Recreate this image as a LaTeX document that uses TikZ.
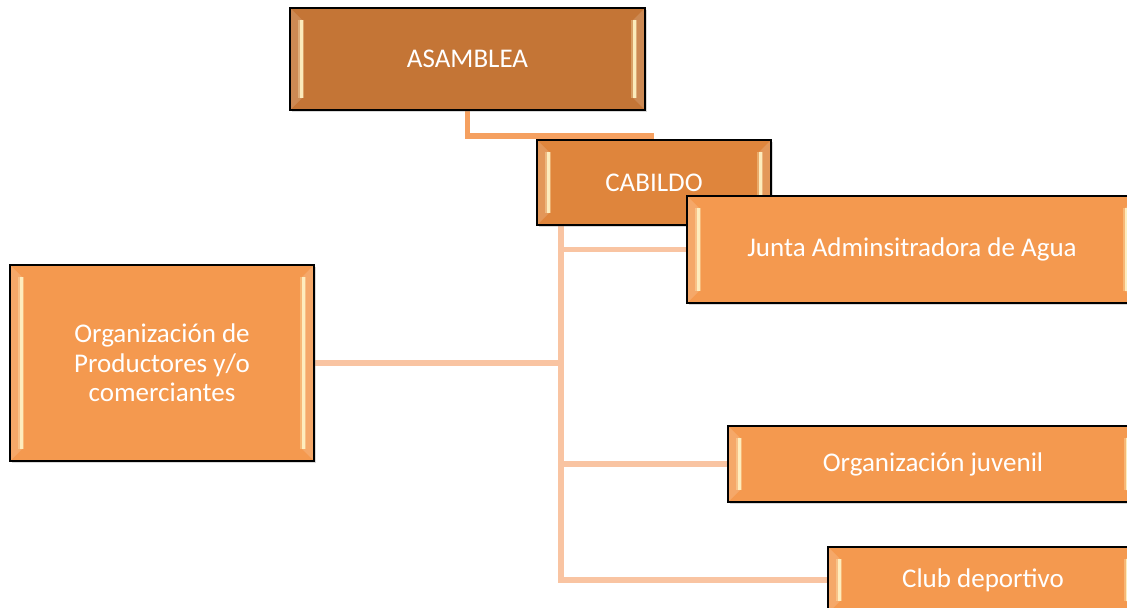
\documentclass[tikz,border=0pt]{standalone}
\usepackage{fontspec}
\setmainfont{Carlito}
\usetikzlibrary{backgrounds,shadows}
\definecolor{brown1}{RGB}{196,117,54}
\definecolor{orange1}{RGB}{223,133,60}
\definecolor{orange2}{RGB}{244,153,79}
\definecolor{linkdark}{RGB}{245,160,96}
\definecolor{linklight}{RGB}{249,196,162}
\definecolor{bevelhi}{RGB}{255,242,196}

\begin{document}
\begin{tikzpicture}[x=0.5pt, y=-0.5pt,
  bevel/.style={path picture={
    \fill[white, opacity=0.15] (path picture bounding box.north west) -- ([shift={(6pt,-6pt)}]path picture bounding box.north west)
      -- ([shift={(6pt,6pt)}]path picture bounding box.south west) -- (path picture bounding box.south west) -- cycle;
    \fill[white, opacity=0.15] (path picture bounding box.north east) -- ([shift={(-6pt,-6pt)}]path picture bounding box.north east)
      -- ([shift={(-6pt,6pt)}]path picture bounding box.south east) -- (path picture bounding box.south east) -- cycle;
    \draw[bevelhi, opacity=0.35, line width=3pt] ([shift={(5.5pt,-6pt)}]path picture bounding box.north west) -- ([shift={(5.5pt,6pt)}]path picture bounding box.south west);
    \draw[bevelhi, opacity=0.35, line width=3pt] ([shift={(-5.5pt,-6pt)}]path picture bounding box.north east) -- ([shift={(-5.5pt,6pt)}]path picture bounding box.south east);
    \draw[bevelhi, opacity=0.9, line width=1.5pt] ([shift={(5.5pt,-6pt)}]path picture bounding box.north west) -- ([shift={(5.5pt,6pt)}]path picture bounding box.south west);
    \draw[bevelhi, opacity=0.9, line width=1.5pt] ([shift={(-5.5pt,-6pt)}]path picture bounding box.north east) -- ([shift={(-5.5pt,6pt)}]path picture bounding box.south east);
  }},
  box/.style={draw=black, line width=0.8pt, fill=orange2, text=white, align=center,
    inner sep=2pt, font=\fontsize{13.5}{14.8}\selectfont, bevel,
    drop shadow={opacity=0.3, shadow xshift=0.8pt, shadow yshift=-0.8pt}},
  link/.style={draw=linkdark, line width=2.75pt},
  branch/.style={draw=linklight, line width=2.75pt}
]
\useasboundingbox (0,0) rectangle (1127,608);

\node[box, fill=brown1, minimum width=177.5pt, minimum height=51pt] (asamblea) at (467.5,59) {ASAMBLEA};
\node[box, fill=orange1, minimum width=117pt, minimum height=42.5pt] (cabildo) at (654,182.5) {CABILDO};
\node[box, minimum width=225pt, minimum height=53.5pt] (junta) at (912,249.5) {Junta Adminsitradora de Agua};
\node[box, minimum width=152pt, minimum height=98pt] (prod) at (162,363) {Organización de\\Productores y/o\\comerciantes};
\node[box, minimum width=205pt, minimum height=38pt] (juvenil) at (933,464) {Organización juvenil};
\node[box, minimum width=155pt, minimum height=33pt] (club) at (983,580) {Club deportivo};

\coordinate (trunk) at ([xshift=12.5pt]cabildo.south west);

\begin{scope}[on background layer]
\draw[link] (asamblea.south) |- ([yshift=1.5pt]cabildo.north);
\draw[branch] (trunk) |- (club.west);
\draw[branch] (trunk |- junta.west) -- (junta.west);
\draw[branch] (trunk |- prod.east) -- (prod.east);
\draw[branch] (trunk |- juvenil.west) -- (juvenil.west);
\end{scope}
\end{tikzpicture}
\end{document}
